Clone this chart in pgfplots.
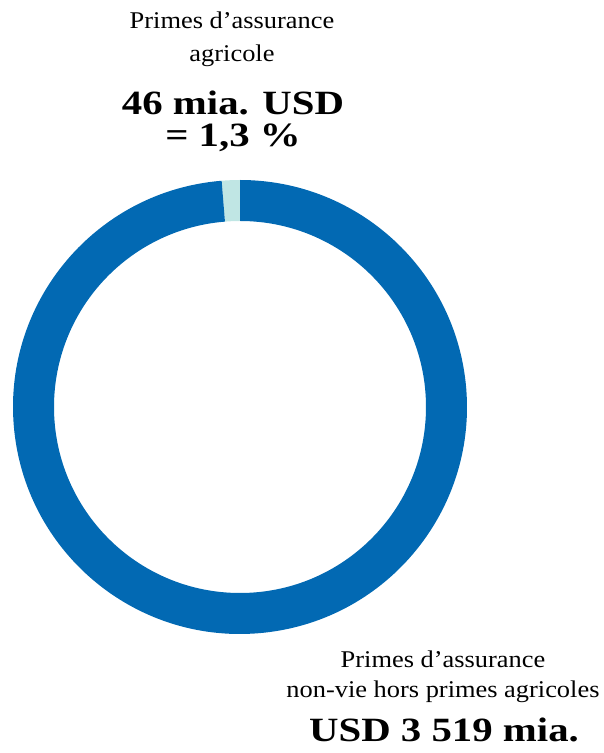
\documentclass[border=0pt]{standalone}
\usepackage{fontspec}
\setmainfont{Liberation Serif}
\newfontfamily\regfont[FakeStretch=1.1]{Liberation Serif}
\newfontfamily\boldfont[FakeStretch=1.2]{Liberation Serif Bold}
\usepackage{pgfplots}
\usepackage{pgfplotstable}
\pgfplotsset{compat=1.18}
\usetikzlibrary{calc}
\definecolor{blueC}{RGB}{2,105,179}
\definecolor{lightC}{RGB}{192,230,228}
\pgfplotstableread{
label value
agri 46
nonvie 3519
}\donutdata
\newcommand\seg[3]{\fill[#1] ($(axis cs:0,0)+(#2:227pt)$) arc[start angle=#2, end angle=#3, radius=227pt] -- ($(axis cs:0,0)+(#3:186pt)$) arc[start angle=#3, end angle=#2, radius=186pt] -- cycle;}
\begin{document}
\begin{tikzpicture}[x=1pt,y=1pt]
\useasboundingbox (0,0) rectangle (604,753);
\pgfplotstablegetelem{0}{value}\of\donutdata \pgfmathsetmacro\va{\pgfplotsretval}
\pgfplotstablegetelem{1}{value}\of\donutdata \pgfmathsetmacro\vb{\pgfplotsretval}
\pgfmathsetmacro\frac{\va/(\va+\vb)}
\pgfmathsetmacro\angA{90+360*\frac}
\begin{axis}[at={(240,346)}, anchor=center, width=454pt, height=454pt, scale only axis,
  xmin=-227, xmax=227, ymin=-227, ymax=227, hide axis, clip=false]
\seg{lightC}{90}{\angA}
\seg{blueC}{\angA}{450}
\end{axis}
\tikzset{reg/.style={anchor=base, font=\regfont\fontsize{24}{28}\selectfont},
         bld/.style={anchor=base, font=\boldfont\fontsize{34}{36}\selectfont}}
\node[reg] at (232,724) {Primes d’assurance};
\node[reg] at (232,691) {agricole};
\node[bld] at (233,638) {46 mia. USD};
\node[bld] at (233,606) {= 1,3 \%};
\node[reg] at (443,85) {Primes d’assurance};
\node[reg] at (443,55) {non-vie hors primes agricoles};
\node[bld] at (444,11) {USD 3 519 mia.};
\end{tikzpicture}
\end{document}
